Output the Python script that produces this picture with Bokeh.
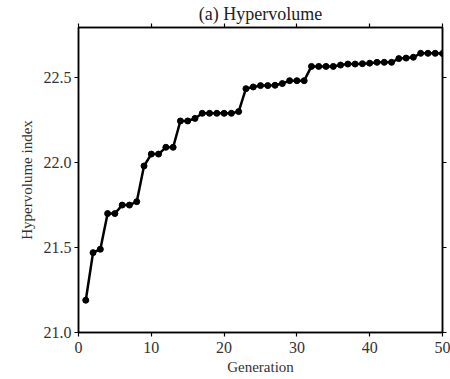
from bokeh.plotting import figure
from bokeh.models import LinearAxis, FixedTicker, Range1d, PrintfTickFormatter, CustomJSTickFormatter
from bokeh.embed import file_html
from bokeh.resources import INLINE

generation = list(range(1, 51))
hypervolume = [
    21.19, 21.47, 21.49, 21.70, 21.70, 21.75, 21.75, 21.77, 21.98, 22.05,
    22.05, 22.09, 22.09, 22.245, 22.245, 22.26, 22.29, 22.29, 22.29, 22.29,
    22.29, 22.30, 22.435, 22.445, 22.453, 22.453, 22.455, 22.465, 22.482, 22.482,
    22.482, 22.566, 22.566, 22.566, 22.566, 22.574, 22.58, 22.58, 22.582, 22.585,
    22.59, 22.59, 22.59, 22.612, 22.615, 22.62, 22.643, 22.643, 22.643, 22.642,
]
x_ticks = [0, 10, 20, 30, 40, 50]
y_ticks = [21.0, 21.5, 22.0, 22.5]

FONT = "Liberation Serif"
TICK_FONT = "'Liberation Serif', 'Times New Roman', serif"

p = figure(width=450, height=379, output_backend="svg", toolbar_location=None,
           x_range=Range1d(0, 50), y_range=Range1d(21.0, 22.795),
           title="(a) Hypervolume",
           min_border_left=78, min_border_right=8, min_border_top=27, min_border_bottom=47)

p.title.align = "center"
p.title.text_font = FONT
p.title.text_font_size = "18px"
p.title.text_font_style = "normal"
p.title.text_color = "#222222"
p.title.standoff = 0
p.title.offset = 0

p.grid.visible = False
p.outline_line_color = "black"
p.outline_line_width = 1.5

p.line(generation, hypervolume, line_color="black", line_width=2.5)
p.scatter(generation, hypervolume, size=6, fill_color="black", line_color="black")

xa = p.xaxis[0]
ya = p.yaxis[0]
xa.ticker = FixedTicker(ticks=x_ticks)
ya.ticker = FixedTicker(ticks=y_ticks)
ya.formatter = PrintfTickFormatter(format="%.1f")
xa.axis_label = "Generation"
ya.axis_label = "Hypervolume index"

top = LinearAxis(ticker=FixedTicker(ticks=x_ticks), formatter=CustomJSTickFormatter(code="return ''"))
right = LinearAxis(ticker=FixedTicker(ticks=y_ticks), formatter=CustomJSTickFormatter(code="return ''"))
p.add_layout(top, "above")
p.add_layout(right, "right")

for ax in (xa, ya, top, right):
    ax.axis_line_color = "black"
    ax.axis_line_width = 1.5
    ax.major_tick_line_color = "black"
    ax.major_tick_line_width = 1.2
    ax.major_tick_out = 4
    ax.major_tick_in = 0
    ax.minor_tick_line_color = None
    ax.major_label_text_font = TICK_FONT
    ax.major_label_text_font_size = "16px"
    ax.major_label_text_font_style = "normal"
    ax.major_label_text_color = "#333333"
    ax.axis_label_text_font = FONT
    ax.axis_label_text_font_size = "15px"
    ax.axis_label_text_font_style = "normal"
    ax.axis_label_text_color = "#333333"
    ax.major_label_standoff = 3
    ax.axis_label_standoff = 6

xa.major_label_standoff = 5
xa.axis_label_standoff = 3

for ax in (top, right):
    ax.major_label_standoff = 0
    ax.axis_label_standoff = 0

open("out.html", "w").write(file_html(p, INLINE))
